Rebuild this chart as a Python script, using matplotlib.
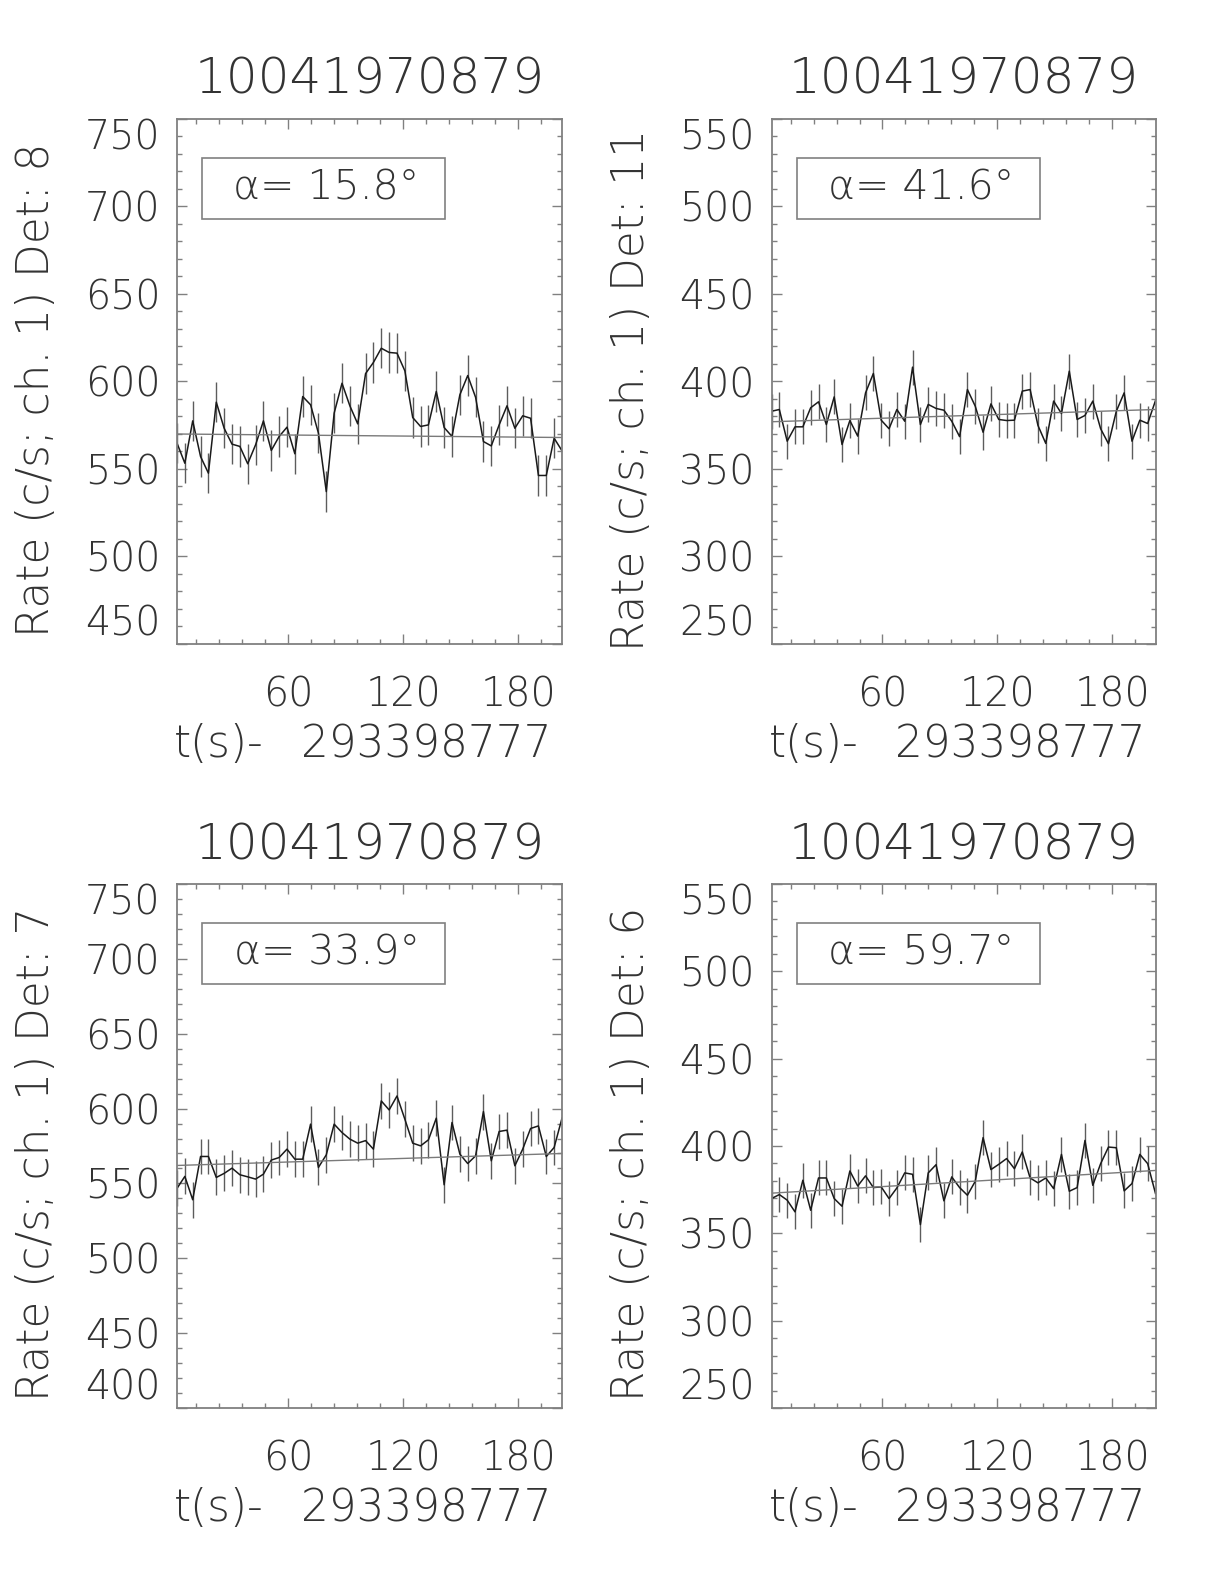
import numpy as np
import matplotlib
matplotlib.use("Agg")
import matplotlib.pyplot as plt
from matplotlib.ticker import MultipleLocator, FixedLocator
from matplotlib.patches import Rectangle

# ---------------- data ----------------
title_id = "10041970879"
t_offset = "293398777"
bin_width = 4.096
t_first = 2.0
n_bins = 50
time_s = t_first + bin_width * np.arange(n_bins)

detectors = [8, 11, 7, 6]
alpha_deg = [15.8, 41.6, 33.9, 59.7]
y_limits = [(450, 750), (250, 550), (400, 750), (250, 550)]

rate_det8 = [564.8, 553.3, 577.5, 557.1, 547.6, 588.2, 573.3, 564.2, 562.9, 553.0,
             563.8, 577.5, 560.6, 568.6, 573.9, 558.7, 591.4, 586.7, 570.5, 537.1,
             581.9, 599.0, 586.1, 575.8, 604.5, 610.9, 619.0, 616.6, 616.2, 606.1,
             579.4, 574.3, 575.2, 594.3, 573.7, 568.6, 592.4, 603.4, 591.0, 565.7,
             563.2, 575.2, 586.1, 573.3, 580.4, 579.0, 546.3, 546.3, 567.6, 560.4]
rate_det11 = [383.0, 384.0, 365.9, 374.1, 374.1, 385.0, 388.4, 375.4, 391.2, 364.0,
              377.7, 368.8, 393.5, 404.6, 377.9, 373.0, 384.0, 377.3, 408.2, 375.4,
              386.9, 384.6, 383.6, 377.3, 368.5, 395.4, 385.9, 371.0, 387.2, 378.3,
              377.7, 377.9, 394.5, 395.4, 374.9, 364.6, 388.8, 381.7, 405.9, 378.3,
              380.6, 388.8, 373.0, 364.4, 383.0, 393.5, 365.9, 377.9, 376.0, 389.1]
rate_det7 = [546.7, 554.7, 539.1, 568.0, 568.0, 554.0, 556.7, 560.2, 555.8, 554.4,
             552.9, 556.2, 565.6, 567.3, 572.9, 566.2, 566.2, 589.6, 560.7, 569.1,
             589.6, 584.0, 579.6, 576.9, 578.6, 572.9, 605.1, 599.1, 608.4, 592.9,
             576.9, 575.1, 579.1, 593.6, 549.1, 590.7, 569.6, 563.3, 568.4, 598.0,
             565.1, 584.7, 585.6, 561.8, 572.9, 586.7, 588.4, 568.0, 574.0, 593.6]
rate_det6 = [369.9, 372.2, 369.0, 362.3, 380.4, 363.2, 381.7, 381.7, 369.9, 365.5,
             385.7, 377.1, 382.9, 376.2, 376.6, 369.9, 376.0, 384.6, 383.8, 355.0,
             384.6, 389.3, 368.6, 382.3, 376.2, 371.8, 379.8, 404.8, 386.5, 389.5,
             392.8, 387.0, 396.6, 381.7, 378.9, 381.7, 375.6, 395.2, 374.1, 376.2,
             403.2, 377.5, 389.9, 399.4, 399.0, 374.3, 378.5, 395.2, 389.9, 372.8]
rates = [rate_det8, rate_det11, rate_det7, rate_det6]
rate_err = [11.5, 10.0, 12.0, 10.0]

# background model: values at first and last bin
bkg_det8 = [570.0, 568.0]
bkg_det11 = [377.0, 384.0]
bkg_det7 = [562.0, 570.0]
bkg_det6 = [373.0, 386.0]
bkgs = [bkg_det8, bkg_det11, bkg_det7, bkg_det6]

# ---------------- layout ----------------
W, H = 1224, 1584
plt.rcParams["font.family"] = ["DejaVu Sans"]
plt.rcParams["font.weight"] = 200
TXT = "#333333"
FRAME = "#808080"

fig = plt.figure(figsize=(W / 100, H / 100), dpi=100)

# panel rectangles in pixels: left, top, width, height
rects = [(177, 119, 385, 525), (771.5, 119, 384, 525),
         (177, 884, 385, 524), (771.5, 884, 384, 524)]

def fx(x):
    return x / W

def fy(y):
    return 1 - y / H

for i in range(4):
    l, tp, w, h = rects[i]
    ax = fig.add_axes([l / W, 1 - (tp + h) / H, w / W, h / H])
    r = np.array(rates[i])
    e = rate_err[i]
    ax.vlines(time_s, r - e, r + e, colors="#5c5c5c", lw=1.0)
    ax.plot(time_s, r, color="#1a1a1a", lw=1.1)
    ax.plot([time_s[0], time_s[-1]], bkgs[i], color="#7a7a7a", lw=1.0)

    ax.set_xlim(time_s[0], time_s[-1])
    ax.set_ylim(*y_limits[i])
    ax.xaxis.set_major_locator(FixedLocator([60, 120, 180]))
    ax.xaxis.set_minor_locator(MultipleLocator(12))
    ax.yaxis.set_major_locator(MultipleLocator(50))
    ax.yaxis.set_minor_locator(MultipleLocator(10))
    ax.tick_params(which="both", direction="in", top=True, right=True,
                   color=FRAME, width=1.0, labelcolor=TXT, labelsize=28.5)
    ax.tick_params(which="major", length=7)
    ax.tick_params(which="minor", length=3.6)
    ax.tick_params(axis="y", pad=12)
    ax.tick_params(axis="x", pad=23)
    for s in ax.spines.values():
        s.set_color(FRAME)
        s.set_linewidth(1.3)

    yt = np.arange(y_limits[i][0], y_limits[i][1] + 1, 50)
    ax.set_yticks(yt)
    ticks = ax.yaxis.get_major_ticks(len(yt))
    ticks[0].label1.set_verticalalignment("bottom")
    ticks[-1].label1.set_verticalalignment("top")

    # alpha box
    bx0 = 25 / w
    bh = 61 / h
    by0 = 1 - 39 / h - bh
    bw = 243 / w
    ax.add_patch(Rectangle((bx0, by0), bw, bh, transform=ax.transAxes,
                           fill=False, edgecolor=FRAME, lw=1.2))
    ax.text(bx0 + bw / 2 + 3 / w, by0 + bh / 2, f"α= {alpha_deg[i]:.1f}°",
            transform=ax.transAxes, ha="center", va="center",
            fontsize=29.5, color=TXT)

    cx = l + w / 2
    fig.text(fx(cx), fy(tp - 25), title_id, ha="center", va="baseline",
             fontsize=36, color=TXT)
    # x-axis label "t(s)- 293398777" (drawn in two parts for the wide gap)
    fig.text(fx(l - 3), fy(tp + h + 113), "t(s)-", ha="left",
             va="baseline", fontsize=31.5, color=TXT)
    fig.text(fx(l + 374), fy(tp + h + 113), t_offset, ha="right",
             va="baseline", fontsize=31.5, color=TXT)
    fig.text(fx(l - 140), fy(tp + h / 2 + 8), f"Rate (c/s; ch. 1) Det: {detectors[i]}",
             rotation=90, ha="center", va="center", fontsize=31.5, color=TXT)

fig.savefig("out.png", dpi=100, facecolor="white")
